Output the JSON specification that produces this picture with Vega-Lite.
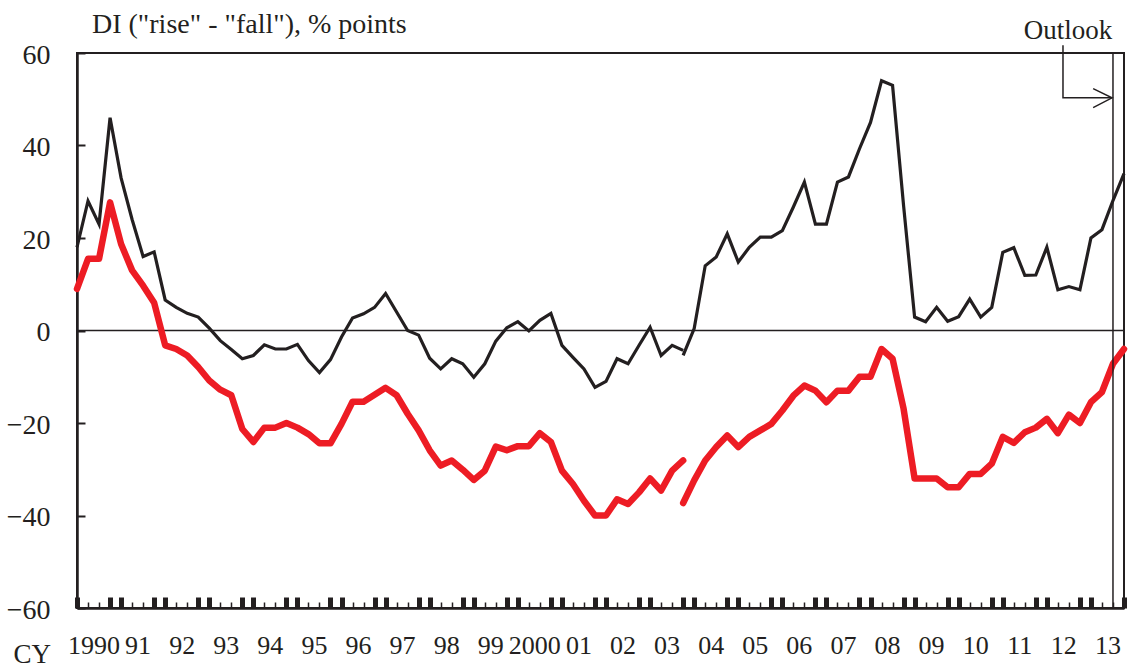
{
  "$schema": "https://vega.github.io/schema/vega-lite/v6.json",
  "width": 1047,
  "height": 555,
  "autosize": "none",
  "padding": {"left": 77, "top": 53, "right": 5, "bottom": 60},
  "background": "white",
  "config": {
    "font": "Liberation Serif",
    "view": {"stroke": "#231F20", "strokeWidth": 2},
    "axis": {"grid": false}
  },
  "encoding": {
    "x": {"field": "t", "type": "quantitative", "scale": {"domain": [1990, 2013.75], "nice": false, "zero": false},
      "axis": {
        "orient": "bottom",
        "values": [1990,1990.25,1990.5,1990.75,1991,1991.25,1991.5,1991.75,1992,1992.25,1992.5,1992.75,1993,1993.25,1993.5,1993.75,1994,1994.25,1994.5,1994.75,1995,1995.25,1995.5,1995.75,1996,1996.25,1996.5,1996.75,1997,1997.25,1997.5,1997.75,1998,1998.25,1998.5,1998.75,1999,1999.25,1999.5,1999.75,2000,2000.25,2000.5,2000.75,2001,2001.25,2001.5,2001.75,2002,2002.25,2002.5,2002.75,2003,2003.25,2003.5,2003.75,2004,2004.25,2004.5,2004.75,2005,2005.25,2005.5,2005.75,2006,2006.25,2006.5,2006.75,2007,2007.25,2007.5,2007.75,2008,2008.25,2008.5,2008.75,2009,2009.25,2009.5,2009.75,2010,2010.25,2010.5,2010.75,2011,2011.25,2011.5,2011.75,2012,2012.25,2012.5,2012.75,2013,2013.25,2013.5,2013.75],
        "ticks": true,
        "tickColor": "#231F20",
        "tickSize": {"condition": {"test": "(datum.value % 1) == 0 || (datum.value % 1) == 0.75", "value": -11}, "value": -6},
        "tickWidth": {"condition": {"test": "(datum.value % 1) == 0 || (datum.value % 1) == 0.75", "value": 5}, "value": 1.5},
        "domain": true, "domainColor": "#231F20", "domainWidth": 2.5,
        "labelFont": "Liberation Serif", "labelFontSize": 26, "labelColor": "#231F20", "labelPadding": 30, "labelOffset": 5.5,
        "labelExpr": "(datum.value % 1) != 0.25 ? '' : ((floor(datum.value) == 1990 || floor(datum.value) == 2000) ? format(floor(datum.value), 'd') : format(floor(datum.value) % 100, '02d'))",
        "labelFlush": false, "labelOverlap": false, "labelBound": false,
        "title": "CY", "titleFont": "Liberation Serif", "titleFontSize": 27, "titleFontWeight": "normal", "titleColor": "#231F20",
        "titleAlign": "left", "titleBaseline": "alphabetic", "titleX": -64, "titleY": 54
      }},
    "y": {"field": "v", "type": "quantitative", "scale": {"domain": [-60, 60], "nice": false},
      "axis": {
        "orient": "left",
        "values": [-60, -40, -20, 0, 20, 40, 60],
        "tickSize": -8, "tickWidth": 2, "tickColor": "#231F20",
        "domainColor": "#231F20", "domainWidth": 2.5,
        "labelFont": "Liberation Serif", "labelFontSize": 28, "labelColor": "#231F20", "labelPadding": 35, "labelOffset": 2,
        "title": null
      }}
  },
  "layer": [
    {
      "data": {"name": "di"},
      "transform": [{"fold": ["black", "red"], "as": ["s", "v"]}, {"filter": "datum.s == 'black'"}],
      "mark": {"type": "line", "color": "#231F20", "strokeWidth": 3.2},
      "encoding": {"detail": {"field": "seg"}}
    },
    {
      "data": {"name": "zero"},
      "mark": {"type": "line", "color": "#231F20", "strokeWidth": 1.5},
      "encoding": {}
    },
    {
      "data": {"name": "di"},
      "transform": [{"fold": ["black", "red"], "as": ["s", "v"]}, {"filter": "datum.s == 'red'"}],
      "mark": {"type": "line", "color": "#ED1C24", "strokeWidth": 6.5, "strokeCap": "round", "strokeJoin": "round"},
      "encoding": {"detail": {"field": "seg"}}
    },
    {
      "data": {"name": "outlook"},
      "mark": {"type": "line", "color": "#231F20", "strokeWidth": 1.5},
      "encoding": {"order": {"field": "o"}}
    },
    {
      "data": {"name": "arrow"},
      "mark": {"type": "line", "color": "#231F20", "strokeWidth": 1.5},
      "encoding": {"detail": {"field": "p"}, "order": {"field": "o"}}
    },
    {
      "data": {"values": [{"t": 2012.48, "v": 63.0, "label": "Outlook"}]},
      "mark": {"type": "text", "align": "center", "baseline": "alphabetic", "font": "Liberation Serif", "fontSize": 27, "color": "#231F20"},
      "encoding": {"text": {"field": "label"}}
    },
    {
      "data": {"values": [{"t": 1990.34, "v": 64.3, "label": "DI (\"rise\" - \"fall\"), % points"}]},
      "mark": {"type": "text", "align": "left", "baseline": "alphabetic", "font": "Liberation Serif", "fontSize": 28, "color": "#231F20"},
      "encoding": {"text": {"field": "label"}}
    }
  ],
  "datasets": {
    "zero": [{"t": 1990, "v": 0}, {"t": 2013.75, "v": 0}],
    "outlook": [{"t": 2013.5, "v": -60, "o": 1}, {"t": 2013.5, "v": 60, "o": 2}],
    "arrow": [
      {"p": "path", "o": 1, "t": 2012.366, "v": 61.7},
      {"p": "path", "o": 2, "t": 2012.366, "v": 50.3},
      {"p": "path", "o": 3, "t": 2013.478, "v": 50.3},
      {"p": "head", "o": 1, "t": 2013.05, "v": 52.3},
      {"p": "head", "o": 2, "t": 2013.478, "v": 50.3},
      {"p": "head", "o": 3, "t": 2013.05, "v": 48.2}
    ],
    "di": [
      {"t": 1990.00, "seg": "a", "black": 18, "red": 9},
      {"t": 1990.25, "seg": "a", "black": 28, "red": 15.5},
      {"t": 1990.50, "seg": "a", "black": 23, "red": 15.5},
      {"t": 1990.75, "seg": "a", "black": 46, "red": 27.7},
      {"t": 1991.00, "seg": "a", "black": 33, "red": 18.7},
      {"t": 1991.25, "seg": "a", "black": 24, "red": 13},
      {"t": 1991.50, "seg": "a", "black": 16, "red": 9.7},
      {"t": 1991.75, "seg": "a", "black": 17, "red": 6},
      {"t": 1992.00, "seg": "a", "black": 6.6, "red": -3.2},
      {"t": 1992.25, "seg": "a", "black": 5, "red": -4},
      {"t": 1992.50, "seg": "a", "black": 3.7, "red": -5.4},
      {"t": 1992.75, "seg": "a", "black": 2.9, "red": -7.9},
      {"t": 1993.00, "seg": "a", "black": 0.5, "red": -10.8},
      {"t": 1993.25, "seg": "a", "black": -2.2, "red": -12.8},
      {"t": 1993.50, "seg": "a", "black": -4.1, "red": -14},
      {"t": 1993.75, "seg": "a", "black": -6.1, "red": -21.3},
      {"t": 1994.00, "seg": "a", "black": -5.4, "red": -24.1},
      {"t": 1994.25, "seg": "a", "black": -3.1, "red": -21},
      {"t": 1994.50, "seg": "a", "black": -4, "red": -21},
      {"t": 1994.75, "seg": "a", "black": -4, "red": -20},
      {"t": 1995.00, "seg": "a", "black": -3, "red": -21},
      {"t": 1995.25, "seg": "a", "black": -6.5, "red": -22.4},
      {"t": 1995.50, "seg": "a", "black": -9.1, "red": -24.4},
      {"t": 1995.75, "seg": "a", "black": -6.3, "red": -24.4},
      {"t": 1996.00, "seg": "a", "black": -1.4, "red": -20.2},
      {"t": 1996.25, "seg": "a", "black": 2.7, "red": -15.4},
      {"t": 1996.50, "seg": "a", "black": 3.6, "red": -15.4},
      {"t": 1996.75, "seg": "a", "black": 5, "red": -13.9},
      {"t": 1997.00, "seg": "a", "black": 8, "red": -12.4},
      {"t": 1997.25, "seg": "a", "black": 4, "red": -14},
      {"t": 1997.50, "seg": "a", "black": 0, "red": -18},
      {"t": 1997.75, "seg": "a", "black": -1, "red": -21.6},
      {"t": 1998.00, "seg": "a", "black": -6, "red": -25.9},
      {"t": 1998.25, "seg": "a", "black": -8.3, "red": -29.2},
      {"t": 1998.50, "seg": "a", "black": -6.1, "red": -28.1},
      {"t": 1998.75, "seg": "a", "black": -7.2, "red": -30.1},
      {"t": 1999.00, "seg": "a", "black": -10.1, "red": -32.3},
      {"t": 1999.25, "seg": "a", "black": -7.2, "red": -30.3},
      {"t": 1999.50, "seg": "a", "black": -2.3, "red": -25.1},
      {"t": 1999.75, "seg": "a", "black": 0.6, "red": -25.9},
      {"t": 2000.00, "seg": "a", "black": 1.9, "red": -25},
      {"t": 2000.25, "seg": "a", "black": -0.1, "red": -25},
      {"t": 2000.50, "seg": "a", "black": 2.2, "red": -22.2},
      {"t": 2000.75, "seg": "a", "black": 3.7, "red": -24.1},
      {"t": 2001.00, "seg": "a", "black": -3.2, "red": -30.3},
      {"t": 2001.25, "seg": "a", "black": -5.8, "red": -33.2},
      {"t": 2001.50, "seg": "a", "black": -8.3, "red": -36.8},
      {"t": 2001.75, "seg": "a", "black": -12.3, "red": -40},
      {"t": 2002.00, "seg": "a", "black": -11, "red": -40},
      {"t": 2002.25, "seg": "a", "black": -6.1, "red": -36.5},
      {"t": 2002.50, "seg": "a", "black": -7.2, "red": -37.5},
      {"t": 2002.75, "seg": "a", "black": -3.2, "red": -35},
      {"t": 2003.00, "seg": "a", "black": 0.7, "red": -32},
      {"t": 2003.25, "seg": "a", "black": -5.4, "red": -34.6},
      {"t": 2003.50, "seg": "a", "black": -3.2, "red": -30.3},
      {"t": 2003.75, "seg": "a", "black": -4.3, "red": -28.1},
      {"t": 2003.75, "seg": "b", "black": -5.4, "red": -37.3},
      {"t": 2004.00, "seg": "b", "black": 0.4, "red": -32.4},
      {"t": 2004.25, "seg": "b", "black": 14, "red": -28.1},
      {"t": 2004.50, "seg": "b", "black": 15.9, "red": -25.2},
      {"t": 2004.75, "seg": "b", "black": 20.9, "red": -22.7},
      {"t": 2005.00, "seg": "b", "black": 14.8, "red": -25.2},
      {"t": 2005.25, "seg": "b", "black": 18, "red": -23},
      {"t": 2005.50, "seg": "b", "black": 20.2, "red": -21.6},
      {"t": 2005.75, "seg": "b", "black": 20.2, "red": -20.2},
      {"t": 2006.00, "seg": "b", "black": 21.6, "red": -17.3},
      {"t": 2006.25, "seg": "b", "black": 26.7, "red": -14.1},
      {"t": 2006.50, "seg": "b", "black": 32.1, "red": -11.9},
      {"t": 2006.75, "seg": "b", "black": 23, "red": -13},
      {"t": 2007.00, "seg": "b", "black": 23, "red": -15.5},
      {"t": 2007.25, "seg": "b", "black": 32.1, "red": -13},
      {"t": 2007.50, "seg": "b", "black": 33.2, "red": -13},
      {"t": 2007.75, "seg": "b", "black": 39.3, "red": -10},
      {"t": 2008.00, "seg": "b", "black": 45, "red": -10},
      {"t": 2008.25, "seg": "b", "black": 54, "red": -4},
      {"t": 2008.50, "seg": "b", "black": 53, "red": -6.1},
      {"t": 2008.75, "seg": "b", "black": 27, "red": -16.9},
      {"t": 2009.00, "seg": "b", "black": 2.9, "red": -32},
      {"t": 2009.25, "seg": "b", "black": 1.9, "red": -32},
      {"t": 2009.50, "seg": "b", "black": 5, "red": -32},
      {"t": 2009.75, "seg": "b", "black": 2, "red": -33.9},
      {"t": 2010.00, "seg": "b", "black": 3, "red": -33.9},
      {"t": 2010.25, "seg": "b", "black": 6.8, "red": -31},
      {"t": 2010.50, "seg": "b", "black": 2.9, "red": -31},
      {"t": 2010.75, "seg": "b", "black": 5, "red": -28.8},
      {"t": 2011.00, "seg": "b", "black": 16.9, "red": -23},
      {"t": 2011.25, "seg": "b", "black": 17.9, "red": -24.3},
      {"t": 2011.50, "seg": "b", "black": 11.9, "red": -22},
      {"t": 2011.75, "seg": "b", "black": 12, "red": -21},
      {"t": 2012.00, "seg": "b", "black": 18, "red": -19.1},
      {"t": 2012.25, "seg": "b", "black": 8.8, "red": -22.2},
      {"t": 2012.50, "seg": "b", "black": 9.5, "red": -18.2},
      {"t": 2012.75, "seg": "b", "black": 8.8, "red": -20},
      {"t": 2013.00, "seg": "b", "black": 20, "red": -15.5},
      {"t": 2013.25, "seg": "b", "black": 21.8, "red": -13.3},
      {"t": 2013.50, "seg": "b", "black": 28.1, "red": -7.2},
      {"t": 2013.75, "seg": "b", "black": 33.9, "red": -4}
    ]
  }
}
